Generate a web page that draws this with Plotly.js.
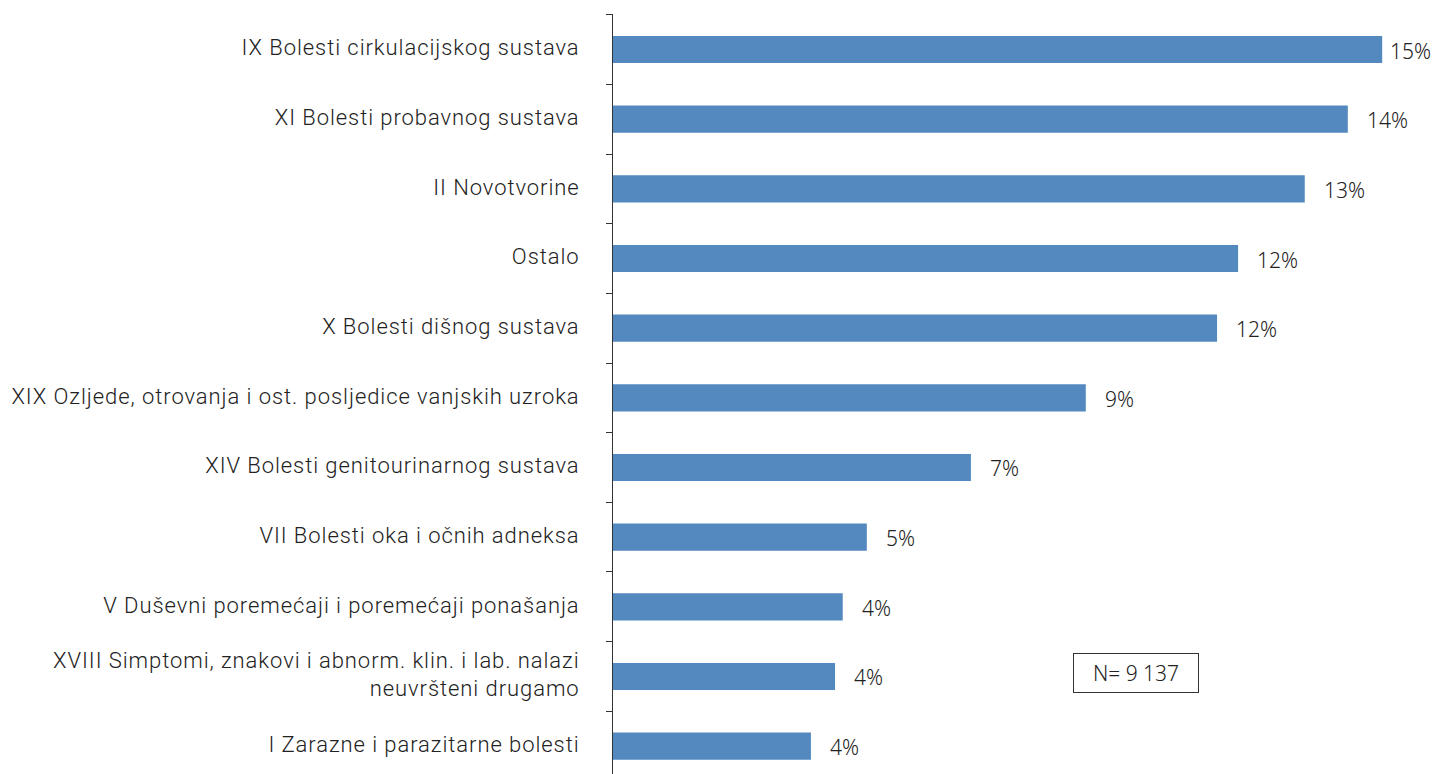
<!DOCTYPE html>
<html>
<head>
<meta charset="utf-8">
<script src="https://cdn.plot.ly/plotly-3.0.1.min.js"></script>
<style>
html,body{margin:0;padding:0;background:#fff;overflow:hidden;}
#chart{width:1435px;height:774px;}
</style>
</head>
<body>
<div id="chart"></div>
<script>
const categories = [
  "IX Bolesti cirkulacijskog sustava",
  "XI Bolesti probavnog sustava",
  "II Novotvorine",
  "Ostalo",
  "X Bolesti dišnog sustava",
  "XIX Ozljede, otrovanja i ost. posljedice vanjskih uzroka",
  "XIV Bolesti genitourinarnog sustava",
  "VII Bolesti oka i očnih adneksa",
  "V Duševni poremećaji i poremećaji ponašanja",
  "XVIII Simptomi, znakovi i abnorm. klin. i lab. nalazi<br>neuvršteni drugamo",
  "I Zarazne i parazitarne bolesti"
];
const values = [15.0, 14.33, 13.49, 12.19, 11.78, 9.22, 6.98, 4.95, 4.48, 4.33, 3.86];
const valueLabels = ["15%", "14%", "13%", "12%", "12%", "9%", "7%", "5%", "4%", "4%", "4%"];
const noteText = "N= 9 137";

const trace = {
  type: "bar",
  orientation: "h",
  y: categories,
  x: values,
  marker: {color: "#5489C0", line: {width: 0}},
  hoverinfo: "skip"
};

const annotations = categories.map((c, i) => ({
  x: values[i], y: c, xref: "x", yref: "y",
  text: valueLabels[i], showarrow: false,
  xanchor: "left", yanchor: "middle",
  xshift: i === 0 ? 6 : 17, yshift: -1,
  font: {family: "Noto Sans, sans-serif", size: 21, color: "#222", weight: 300}
}));
annotations.push({
  x: 10.2, y: categories[9], xref: "x", yref: "y",
  text: noteText, showarrow: false,
  xanchor: "center", yanchor: "middle", yshift: 3,
  width: 122, height: 36,
  bordercolor: "#333", borderwidth: 1, borderpad: 1,
  bgcolor: "#fff",
  font: {family: "Noto Sans, sans-serif", size: 21, color: "#222", weight: 300}
});

const layout = {
  width: 1435, height: 774,
  margin: {l: 613, r: 0, t: 14, b: 0, pad: 0},
  paper_bgcolor: "#fff", plot_bgcolor: "#fff",
  showlegend: false,
  bargap: 0.61,
  xaxis: {
    range: [0, 16.03], visible: false, fixedrange: true
  },
  yaxis: {
    type: "category",
    range: [10.4, -0.51],
    showline: true, linecolor: "#333", linewidth: 1,
    ticks: "outside", ticklen: 6, tickcolor: "#333", tickwidth: 1,
    tickson: "boundaries",
    showgrid: false, zeroline: false,
    ticklabelstandoff: 28,
    tickfont: {family: "Roboto, sans-serif", size: 22, color: "#222", weight: 300},
    fixedrange: true
  },
  annotations: annotations
};

Plotly.newPlot("chart", [trace], layout, {displayModeBar: false, staticPlot: true}).then(gd => {
  // widen tick label letter spacing so the labels match the reference width
  const texts = gd.querySelectorAll(".ytick text");
  let first = null;
  texts.forEach(t => { if (t.textContent.indexOf("IX Bolesti") === 0) first = t; });
  if (first) {
    const w = first.getComputedTextLength();
    const n = first.textContent.length;
    const target = 338;
    const ls = Math.max(0, (target - w) / n);
    texts.forEach(t => {
      t.style.letterSpacing = ls + "px";
      t.querySelectorAll("tspan").forEach(s => s.style.letterSpacing = ls + "px");
      const tr = t.getAttribute("transform") || "";
      t.setAttribute("transform", tr + " translate(0,-2)");
    });
  }
});
</script>
</body>
</html>
